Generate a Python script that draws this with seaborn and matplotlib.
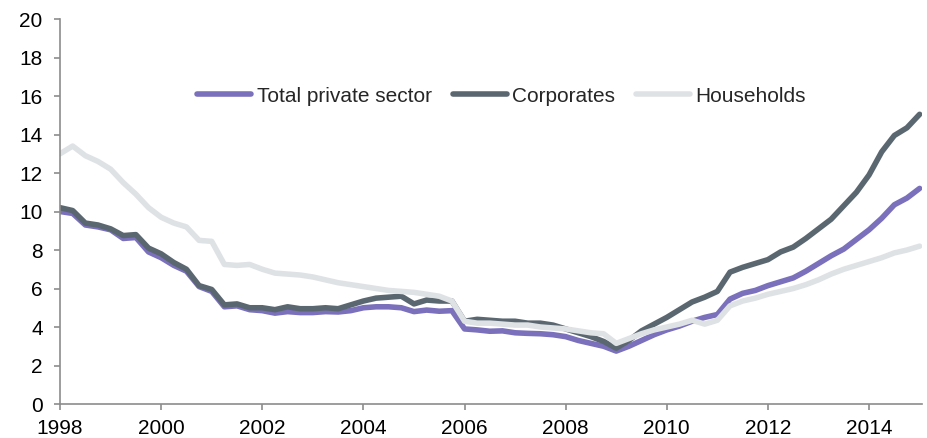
import numpy as np
import pandas as pd
import matplotlib
matplotlib.use("Agg")
import matplotlib.pyplot as plt
import seaborn as sns

# quarterly points
years = [1998 + q * 0.25 for q in range(69)]

total_private = [10.0, 9.9, 9.3, 9.2, 9.05, 8.6, 8.65, 7.9,
                 7.6, 7.2, 6.9, 6.1, 5.85, 5.05, 5.1, 4.9,
                 4.85, 4.72, 4.8, 4.75, 4.75, 4.8, 4.78, 4.85,
                 5.0, 5.05, 5.05, 5.0, 4.8, 4.88, 4.82, 4.85,
                 3.9, 3.85, 3.78, 3.8, 3.7, 3.67, 3.65, 3.6,
                 3.5, 3.3, 3.15, 3.0, 2.75, 3.0, 3.3, 3.6,
                 3.85, 4.05, 4.3, 4.5, 4.65, 5.45, 5.75, 5.9,
                 6.15, 6.35, 6.55, 6.9, 7.3, 7.7, 8.05, 8.55,
                 9.05, 9.65, 10.35, 10.7, 11.2]

corporates = [10.2, 10.05, 9.4, 9.3, 9.1, 8.75, 8.8, 8.1,
              7.8, 7.35, 7.0, 6.15, 5.95, 5.15, 5.2, 5.0,
              5.0, 4.9, 5.05, 4.95, 4.95, 5.0, 4.95, 5.15,
              5.35, 5.5, 5.55, 5.6, 5.2, 5.4, 5.35, 5.35,
              4.3, 4.4, 4.35, 4.3, 4.3, 4.2, 4.2, 4.1,
              3.9, 3.7, 3.5, 3.25, 2.9, 3.3, 3.8, 4.15,
              4.5, 4.9, 5.3, 5.55, 5.85, 6.85, 7.1, 7.3,
              7.5, 7.9, 8.15, 8.6, 9.1, 9.6, 10.3, 11.0,
              11.9, 13.1, 13.95, 14.35, 15.05]

households = [13.0, 13.4, 12.9, 12.6, 12.2, 11.5, 10.9, 10.2,
              9.7, 9.4, 9.2, 8.5, 8.45, 7.25, 7.2, 7.25,
              7.0, 6.8, 6.75, 6.7, 6.6, 6.45, 6.3, 6.2,
              6.1, 6.0, 5.9, 5.85, 5.8, 5.7, 5.6, 5.35,
              4.3, 4.2, 4.2, 4.15, 4.1, 4.1, 4.0, 3.95,
              3.9, 3.8, 3.7, 3.65, 3.15, 3.4, 3.65, 3.85,
              4.0, 4.15, 4.35, 4.15, 4.35, 5.1, 5.35, 5.5,
              5.7, 5.85, 6.0, 6.2, 6.45, 6.75, 7.0, 7.2,
              7.4, 7.6, 7.85, 8.0, 8.2]

series_names = ["Total private sector", "Corporates", "Households"]
colors = ["#7a70bb", "#5b6770", "#dfe2e5"]

df = pd.DataFrame({
    "year": years * 3,
    "value": total_private + corporates + households,
    "series": np.repeat(series_names, len(years)),
})

sns.set_style("white")
plt.rcParams["font.family"] = ["Liberation Sans", "DejaVu Sans"]

fig = plt.figure(figsize=(9.28, 4.38), dpi=100)
ax = fig.add_axes([0.0647, 0.0776, 0.929, 0.879])

sns.lineplot(data=df, x="year", y="value", hue="series", hue_order=series_names,
             palette=colors, linewidth=4.0, ax=ax)

ax.set_xlim(1998, 2015.05)
ax.set_ylim(0, 20)
ax.set_xticks(range(1998, 2015, 2))
ax.set_yticks(range(0, 21, 2))
ax.set_xlabel("")
ax.set_ylabel("")

for side in ["top", "right"]:
    ax.spines[side].set_visible(False)
for side in ["left", "bottom"]:
    ax.spines[side].set_color("#8c8c8c")
    ax.spines[side].set_linewidth(1.2)
ax.tick_params(axis="both", direction="out", length=4.5, width=1.2, color="#8c8c8c",
               labelsize=15, labelcolor="black", bottom=True, left=True)
ax.tick_params(axis="y", pad=8)
ax.tick_params(axis="x", pad=6)

leg = ax.legend(loc="center", bbox_to_anchor=(0.512, 0.8), ncol=3, frameon=False,
                fontsize=15, handlelength=2.6, handletextpad=0.25, columnspacing=1.0)
for line in leg.get_lines():
    line.set_linewidth(4.0)
    line.set_solid_capstyle("round")

fig.savefig("out.png", dpi=100)
